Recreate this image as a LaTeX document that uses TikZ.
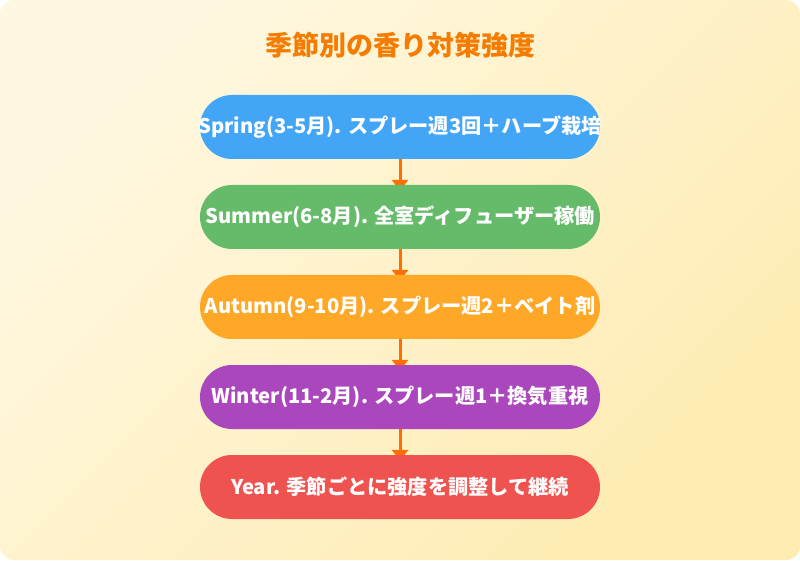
\documentclass[tikz,border=0pt]{standalone}
\usepackage{fontspec}
\setmainfont{Noto Sans CJK JP}
\usetikzlibrary{arrows.meta}
\pgfdeclarelayer{back}
\pgfdeclarelayer{mid}
\pgfsetlayers{back,mid,main}
\definecolor{bgA}{HTML}{FFF8E1}
\definecolor{bgB}{HTML}{FFECB3}
\definecolor{cBlue}{HTML}{42A5F5}
\definecolor{cGreen}{HTML}{66BB6A}
\definecolor{cOrange}{HTML}{FFA726}
\definecolor{cPurple}{HTML}{AB47BC}
\definecolor{cRed}{HTML}{EF5350}
\definecolor{cArrow}{HTML}{FF6F00}
\definecolor{cTitle}{HTML}{F57C00}
\newcommand\pilltext[1]{\makebox[0pt]{#1}}
\tikzset{
  pill/.style={rectangle, rounded corners=32pt, minimum width=400pt, minimum height=64pt,
    inner sep=0pt, text=white, font=\fontsize{20.2pt}{24pt}\selectfont\bfseries},
  flow/.style={draw=cArrow, line width=3pt, -{Triangle[width=16pt,length=11pt]}, shorten >=-6pt}
}
\begin{document}
\begin{tikzpicture}[x=1pt,y=1pt]
\useasboundingbox (0,0) rectangle (800,560);
\begin{pgfonlayer}{back}
\shade[rounded corners=14pt, top color=bgA, bottom color=bgB, shading angle=45] (0,0) rectangle (800,560);
\end{pgfonlayer}
\node[text=cTitle, font=\fontsize{27pt}{31pt}\selectfont\bfseries] (title) at (400,515) {季節別の香り対策強度};
\node[pill, fill=cBlue] (s1) at (400,433) {\pilltext{Spring(3-5月). スプレー週3回＋ハーブ栽培}};
\node[pill, fill=cGreen] (s2) at (400,343) {\pilltext{Summer(6-8月). 全室ディフューザー稼働}};
\node[pill, fill=cOrange] (s3) at (400,253) {\pilltext{Autumn(9-10月). スプレー週2＋ベイト剤}};
\node[pill, fill=cPurple] (s4) at (400,163) {\pilltext{Winter(11-2月). スプレー週1＋換気重視}};
\node[pill, fill=cRed] (s5) at (400,73) {\pilltext{Year. 季節ごとに強度を調整して継続}};
\begin{pgfonlayer}{mid}
\draw[flow] (s1) -- (s2);
\draw[flow] (s2) -- (s3);
\draw[flow] (s3) -- (s4);
\draw[flow] (s4) -- (s5);
\end{pgfonlayer}
\end{tikzpicture}
\end{document}
